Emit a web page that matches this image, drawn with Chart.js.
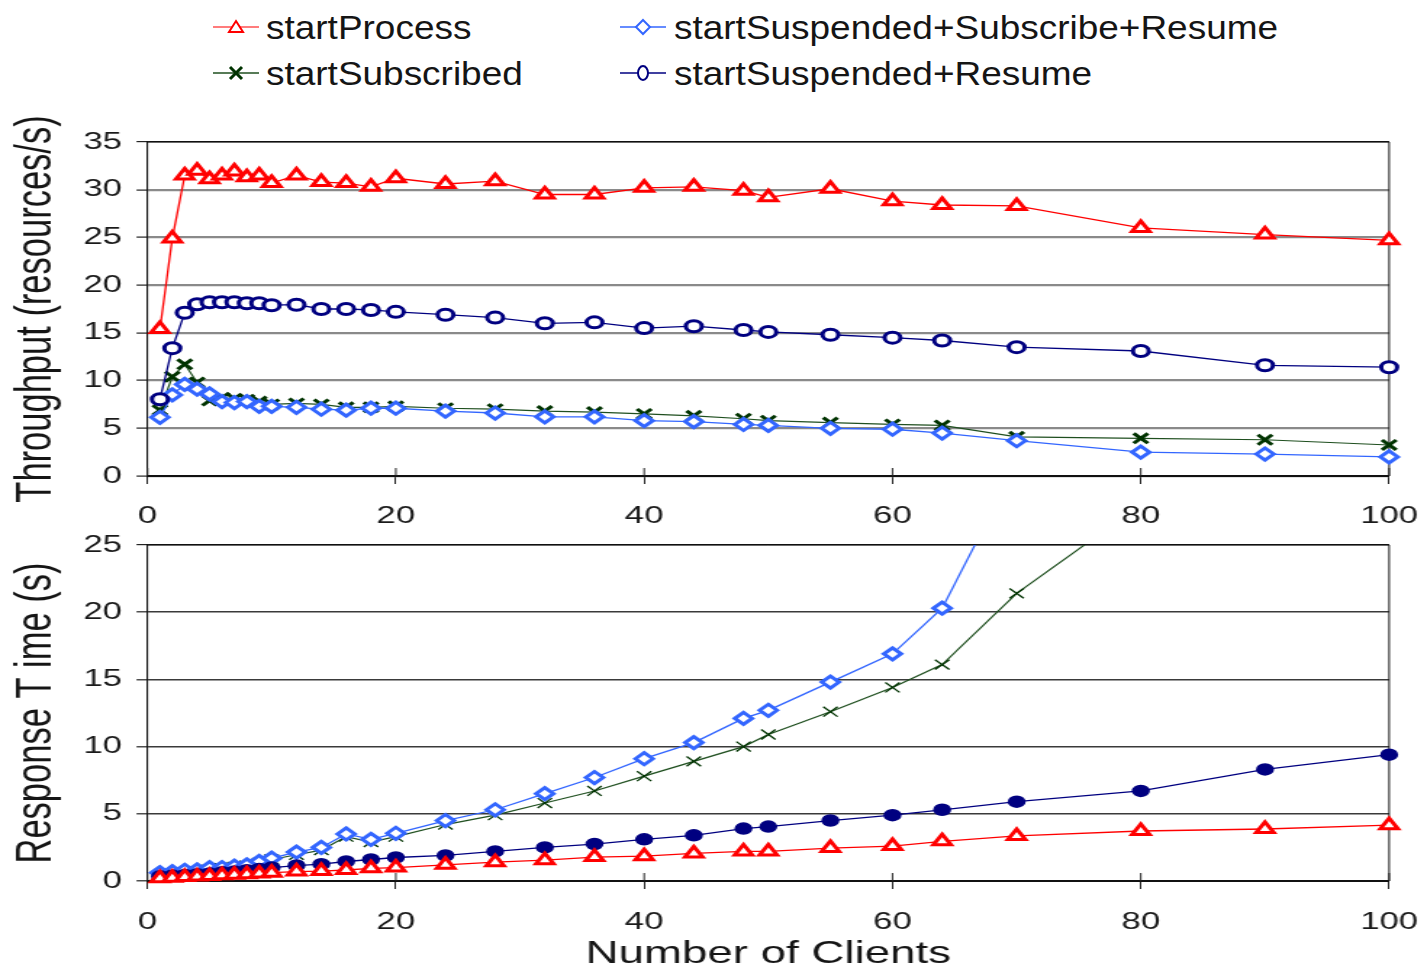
<!DOCTYPE html>
<html><head><meta charset="utf-8">
<script src="https://cdn.jsdelivr.net/npm/chart.js@4.4.1/dist/chart.umd.min.js"></script>
<style>
html,body{margin:0;padding:0;background:#fff;width:1427px;height:969px;overflow:hidden;position:relative;}
canvas{position:absolute;left:0;}
.lg{position:absolute;height:30px;}
.lt{position:absolute;font-family:'Liberation Sans',Arial,Helvetica,sans-serif;font-size:33px;line-height:33px;color:#151515;white-space:nowrap;transform:scaleX(1.12);transform-origin:left center;}
</style></head>
<body>
<svg class="lg" style="left:213px;top:12px" width="46" height="30"><line x1="0" y1="15" x2="46" y2="15" stroke="#ff5050" stroke-width="1.6"/><polygon points="23,9 30,20 16,20" fill="#fff" stroke="#ff0000" stroke-width="2"/></svg>
<span class="lt" id="l1" style="left:266px;top:11px"></span>
<svg class="lg" style="left:213px;top:58px" width="46" height="30"><line x1="0" y1="15" x2="46" y2="15" stroke="#1f4f1f" stroke-width="1.6"/><path d="M17,9 L29,21 M29,9 L17,21" stroke="#003300" stroke-width="3"/></svg>
<span class="lt" id="l2" style="left:266px;top:57px"></span>
<svg class="lg" style="left:620px;top:12px" width="46" height="30"><line x1="0" y1="15" x2="46" y2="15" stroke="#3366ff" stroke-width="1.6"/><polygon points="23,8 30,15 23,22 16,15" fill="#fff" stroke="#3366ff" stroke-width="2"/></svg>
<span class="lt" id="l3" style="left:674px;top:11px"></span>
<svg class="lg" style="left:620px;top:58px" width="46" height="30"><line x1="0" y1="15" x2="46" y2="15" stroke="#000080" stroke-width="1.6"/><ellipse cx="23" cy="15" rx="5" ry="7" fill="#fff" stroke="#000080" stroke-width="2"/></svg>
<span class="lt" id="l4" style="left:674px;top:57px"></span>
<canvas id="c1" width="984" height="428" style="top:100px;width:1427px;height:428px"></canvas>
<canvas id="c2" width="984" height="441" style="top:528px;width:1427px;height:441px"></canvas>
<script>
// ---------- data ----------
const seriesNames = ['startProcess', 'startSubscribed', 'startSuspended+Subscribe+Resume', 'startSuspended+Resume'];
const clients = [1,2,3,4,5,6,7,8,9,10,12,14,16,18,20,24,28,32,36,40,44,48,50,55,60,64,70,80,90,100];

// Throughput (resources/s)
const thrStartProcess   = [15.4,24.9,31.5,32.0,31.1,31.5,31.9,31.3,31.5,30.7,31.5,30.8,30.7,30.3,31.2,30.6,30.9,29.5,29.5,30.2,30.3,29.9,29.2,30.1,28.8,28.4,28.3,26.0,25.3,24.7];
const thrSubscribed     = [6.9,10.4,11.7,9.8,7.9,8.2,8.1,8.0,7.8,7.5,7.6,7.5,7.2,7.2,7.3,7.1,7.0,6.8,6.7,6.5,6.3,6.0,5.8,5.6,5.4,5.3,4.1,3.95,3.8,3.25];
const thrSuspSubResume  = [6.15,8.5,9.6,9.1,8.6,7.8,7.7,7.8,7.3,7.3,7.2,7.0,6.9,7.1,7.1,6.8,6.6,6.2,6.2,5.8,5.7,5.4,5.3,5.0,4.9,4.5,3.7,2.5,2.3,2.0];
const thrSuspResume     = [8.05,13.4,17.1,18.0,18.2,18.2,18.2,18.1,18.1,17.9,17.95,17.5,17.5,17.4,17.2,16.9,16.6,16.0,16.1,15.5,15.7,15.3,15.1,14.8,14.5,14.2,13.5,13.1,11.6,11.4];

// Response Time (s)
const rtStartProcess    = [0.2,0.25,0.3,0.33,0.38,0.42,0.46,0.5,0.55,0.62,0.7,0.74,0.82,0.94,1.0,1.2,1.4,1.55,1.78,1.85,2.05,2.2,2.2,2.45,2.6,2.95,3.35,3.72,3.87,4.15];
const rtSubscribed      = [0.4,0.5,0.6,0.7,0.85,0.95,1.05,1.15,1.35,1.6,1.95,2.3,3.3,2.9,3.3,4.2,4.9,5.8,6.7,7.8,8.9,10.0,10.9,12.6,14.4,16.1,21.4,28.0,35.0,42.0];
const rtSuspSubResume   = [0.62,0.69,0.8,0.83,0.99,1.0,1.1,1.2,1.46,1.7,2.15,2.5,3.5,3.1,3.55,4.5,5.3,6.5,7.7,9.1,10.3,12.1,12.7,14.8,16.9,20.3,31.0,40.0,50.0,60.0];
const rtSuspResume      = [0.35,0.4,0.45,0.5,0.55,0.65,0.7,0.8,0.9,1.0,1.15,1.25,1.45,1.6,1.75,1.9,2.2,2.5,2.75,3.1,3.4,3.9,4.05,4.5,4.9,5.3,5.9,6.7,8.3,9.4];

const xTicks = [0,20,40,60,80,100];
const yTitleTop = 'Throughput (resources/s)';
const yTitleBottom = 'Response T ime (s)';
const xTitle = 'Number of Clients';

// ---------- legend text ----------
document.getElementById('l1').textContent = seriesNames[0];
document.getElementById('l2').textContent = seriesNames[1];
document.getElementById('l3').textContent = seriesNames[2];
document.getElementById('l4').textContent = seriesNames[3];

// ---------- chart setup ----------
Chart.defaults.font.family = "'Liberation Sans', Arial, Helvetica, sans-serif";
Chart.defaults.color = '#1a1a1a';

function pts(vals){ return clients.map((c,i)=>({x:c, y:vals[i]})); }

// plot-area frame (top and right edges) plus Excel-style crossing x ticks
const framePlugin = {
  id:'frame',
  beforeDatasetsDraw(chart){
    const {ctx, chartArea:a} = chart;
    const xs = chart.scales.x;
    ctx.save();
    ctx.strokeStyle = '#111';
    ctx.lineWidth = 1;
    ctx.beginPath();
    ctx.moveTo(a.left, a.top);
    ctx.lineTo(a.right, a.top);
    ctx.lineTo(a.right, a.bottom);
    ctx.stroke();
    ctx.strokeStyle = '#222';
    ctx.beginPath();
    xs.ticks.forEach(t => {
      const px = xs.getPixelForValue(t.value);
      ctx.moveTo(px, a.bottom - 8);
      ctx.lineTo(px, a.bottom);
    });
    ctx.stroke();
    ctx.restore();
  }
};

const Y_AXIS_W = 101.7;
const RIGHT_PAD = 26.1;

function makeChart(id, cfg){
  const ymax = cfg.ymax;
  const ds = [
    {label: seriesNames[0], data: pts(cfg.vals[0]), borderColor:'#ff0000', borderWidth:1.3,
     pointStyle:'triangle', pointRadius:7, pointBorderWidth:3, pointBorderColor:'#ff0000', pointBackgroundColor:'#fff', order:1},
    {label: seriesNames[3], data: pts(cfg.vals[3]), borderColor:'#000080', borderWidth:1.3,
     pointStyle:'circle', pointRadius:cfg.navyR, pointBorderWidth:cfg.navyBW, pointBorderColor:'#000080', pointBackgroundColor:cfg.navyFill, order:2},
    {label: seriesNames[2], data: pts(cfg.vals[2]), borderColor:'#3366ff', borderWidth:1.3,
     pointStyle:'rectRot', pointRadius:6, pointBorderWidth:3, pointBorderColor:'#3366ff', pointBackgroundColor:'#fff', order:3},
    {label: seriesNames[1], data: pts(cfg.vals[1]), borderColor:'#1f4f1f', borderWidth:1.2,
     pointStyle:'crossRot', pointRadius:7, pointBorderWidth:cfg.greenBW, pointBorderColor:'#003300', pointBackgroundColor:'#003300', order:4}
  ];
  ds.forEach(d=>{ d.clip = {left:12, right:12, bottom:12, top:0}; d.fill=false; d.tension=0; });
  return new Chart(document.getElementById(id), {
    type:'line',
    data:{datasets: ds},
    options:{
      responsive:false, animation:false, devicePixelRatio:1, events:[],
      layout:{padding:{top:cfg.padTop, right:RIGHT_PAD, left:0, bottom:0}},
      plugins:{legend:{display:false}, tooltip:{enabled:false}},
      scales:{
        x:{type:'linear', min:0, max:100,
           afterBuildTicks: s => { s.ticks = xTicks.map(v=>({value:v})); },
           afterFit: s => { s.height = cfg.xAxisH; s.paddingLeft = 0; s.paddingRight = 0; },
           ticks:{font:{size:24}, color:'#1a1a1a', padding:cfg.xPad, maxRotation:0, autoSkip:false},
           grid:{drawOnChartArea:false, drawTicks:true, tickLength:8, tickColor:'#222', tickWidth:1},
           border:{display:true, color:'#111', width:2},
           title:{display:!!cfg.xTitle, text:cfg.xTitle||'', font:{size:31.5, lineHeight:1}, color:'#151515', padding:{top:0, bottom:cfg.xTitlePad}}
        },
        y:{min:0, max:ymax,
           ticks:{stepSize:5, font:{size:24}, color:'#1a1a1a', padding:10},
           afterFit: s => { s.width = Y_AXIS_W; s.paddingTop = 0; s.paddingBottom = 0; },
           grid:{color: c => (c.tick && c.tick.value === ymax) ? '#111' : cfg.gridColor,
                 lineWidth: c => (c.tick && c.tick.value === ymax) ? 1.2 : cfg.gridW,
                 drawTicks:true, tickLength:7.6, tickColor:'#222', tickWidth:1.2},
           border:{display:true, color:'#111', width:1.1},
           title:{display:true, text:cfg.yTitle, font:{size:34.5, lineHeight:1}, color:'#151515', padding:{top:8.5, bottom:0}}
        }
      }
    },
    plugins:[framePlugin]
  });
}

makeChart('c1', {
  ymax:35, yTitle:yTitleTop, padTop:42, xAxisH:52, xPad:18,
  vals:[thrStartProcess, thrSubscribed, thrSuspSubResume, thrSuspResume],
  navyR:5.5, navyBW:3, navyFill:'#fff', greenBW:3,
  gridColor:'#8a8a8a', gridW:2.2
});
makeChart('c2', {
  ymax:25, yTitle:yTitleBottom, padTop:17, xAxisH:88, xPad:19,
  xTitle:xTitle, xTitlePad:-1,
  vals:[rtStartProcess, rtSubscribed, rtSuspSubResume, rtSuspResume],
  navyR:5.5, navyBW:1.5, navyFill:'#000080', greenBW:1.3,
  gridColor:'#3a3a3a', gridW:1.6
});
</script>
</body></html>
